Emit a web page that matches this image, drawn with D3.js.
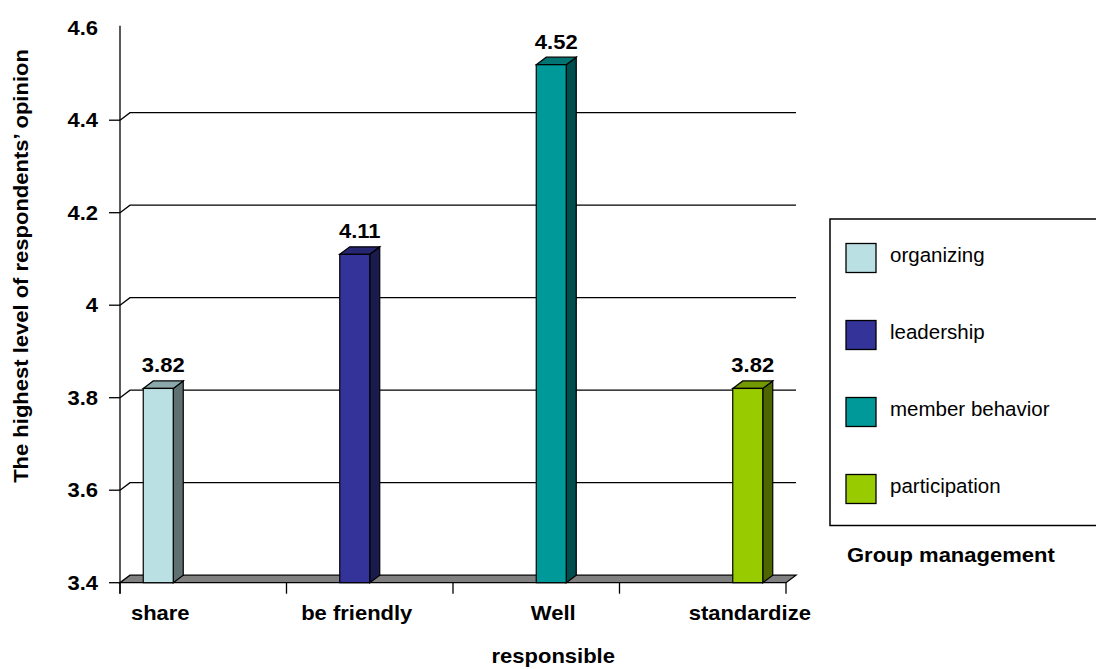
<!DOCTYPE html>
<html>
<head>
<meta charset="utf-8">
<script src="https://cdn.jsdelivr.net/npm/d3@7"></script>
<style>
  html, body { margin: 0; padding: 0; background: #fff; }
  svg { display: block; }
  text { font-family: "Liberation Sans", Arial, sans-serif; fill: #000; }
</style>
</head>
<body>
<svg id="chart" width="1096" height="669"></svg>
<script>
// ---- data ----
const categories = ["share", "be friendly", "Well responsible", "standardize"];
const categoryLines = [["share"], ["be friendly"], ["Well", "responsible"], ["standardize"]];
const series = ["organizing", "leadership", "member behavior", "participation"];
const values = [3.82, 4.11, 4.52, 3.82];           // series i sits in category i
const colors = ["#BBE0E3", "#333399", "#009999", "#99CC00"];
const yTicks = [3.4, 3.6, 3.8, 4.0, 4.2, 4.4, 4.6];
const yTitle = "The highest level of respondents\u2019 opinion";
const legendTitle = "Group management";

(function () {
// ---- layout ----
const svg = d3.select("#chart");
const pLeft = 120, pRight = 786, pBottom = 582.7, pTop = 27.7;
const dx = 10, dy = -7.5;           // 3D depth offset
const stretch = 1.1;
const boldSize = 20;

const x0 = d3.scaleBand().domain(categories).range([pLeft, pRight]).padding(0);
const x1 = d3.scaleBand().domain(series).range([0, x0.bandwidth()])
  .paddingInner(0).paddingOuter(0.775);
const y = d3.scaleLinear().domain([3.4, 4.6]).range([pBottom, pTop]);

const shade = (c, k) => { const r = d3.rgb(c); return d3.rgb(r.r * k, r.g * k, r.b * k).formatHex(); };

// gridlines on back wall
const gridVals = yTicks.filter(v => v > 3.4 && v < 4.6);
svg.append("g").selectAll("path").data(gridVals).join("path")
  .attr("d", v => `M${pLeft},${y(v)}L${pLeft + dx},${y(v) + dy}L${pRight + dx},${y(v) + dy}`)
  .attr("fill", "none").attr("stroke", "#000").attr("stroke-width", 1.3);

// floor
const y0 = y(3.4);
svg.append("path")
  .attr("d", `M${pLeft},${y0}L${pRight},${y0}L${pRight + dx},${y0 + dy}L${pLeft + dx},${y0 + dy}Z`)
  .attr("fill", "#808080").attr("stroke", "#000").attr("stroke-width", 1.3);

// x axis ticks (category boundaries)
const bounds = categories.map(c => x0(c)).concat([pRight]);
svg.append("g").selectAll("line").data(bounds).join("line")
  .attr("x1", d => d).attr("x2", d => d)
  .attr("y1", y0).attr("y2", y0 + 11)
  .attr("stroke", "#000").attr("stroke-width", 1.3);

// y axis
svg.append("line").attr("x1", pLeft).attr("x2", pLeft)
  .attr("y1", y(4.6) - 2).attr("y2", y0 + 11)
  .attr("stroke", "#000").attr("stroke-width", 1.3);
svg.append("g").selectAll("line").data(yTicks.filter(v => v < 4.6)).join("line")
  .attr("x1", pLeft - 11).attr("x2", pLeft)
  .attr("y1", d => y(d)).attr("y2", d => y(d))
  .attr("stroke", "#000").attr("stroke-width", 1.3);
svg.append("g").selectAll("text").data(yTicks).join("text")
  .attr("transform", d => `translate(98,${y(d)}) scale(${stretch},1)`)
  .attr("text-anchor", "end").attr("dy", "0.35em")
  .attr("font-size", boldSize).attr("font-weight", "bold")
  .text(d => d3.format("")(+d.toFixed(1)));

// bars
const bars = categories.map((c, i) => ({
  cat: c, ser: series[i], value: values[i], color: colors[i],
  x: x0(c) + x1(series[i]), w: x1.bandwidth()
}));
const bg = svg.append("g").selectAll("g").data(bars).join("g");
bg.append("path") // side
  .attr("d", d => `M${d.x + d.w},${y(d.value)}L${d.x + d.w + dx},${y(d.value) + dy}L${d.x + d.w + dx},${y0 + dy}L${d.x + d.w},${y0}Z`)
  .attr("fill", d => shade(d.color, 0.5)).attr("stroke", "#000").attr("stroke-width", 1.2);
bg.append("path") // top
  .attr("d", d => `M${d.x},${y(d.value)}L${d.x + dx},${y(d.value) + dy}L${d.x + d.w + dx},${y(d.value) + dy}L${d.x + d.w},${y(d.value)}Z`)
  .attr("fill", d => shade(d.color, 0.75)).attr("stroke", "#000").attr("stroke-width", 1.2);
bg.append("rect") // front
  .attr("x", d => d.x).attr("y", d => y(d.value))
  .attr("width", d => d.w).attr("height", d => y0 - y(d.value))
  .attr("fill", d => d.color).attr("stroke", "#000").attr("stroke-width", 1.2);
bg.append("text")
  .attr("transform", d => `translate(${d.x + d.w / 2 + dx / 2},${y(d.value) - 16}) scale(${stretch},1)`)
  .attr("text-anchor", "middle")
  .attr("font-size", boldSize).attr("font-weight", "bold")
  .text(d => d3.format(".2f")(d.value));

// category labels
const lab = svg.append("g").selectAll("g").data(bars).join("g")
  .attr("transform", d => `translate(${d.x + d.w / 2 + 2},620)`);
lab.selectAll("text").data((d, i) => categoryLines[i].map((t, j) => ({ t, j }))).join("text")
  .attr("transform", d => `translate(0,${d.j * 43}) scale(${stretch},1)`)
  .attr("text-anchor", "middle")
  .attr("font-size", boldSize).attr("font-weight", "bold")
  .text(d => d.t);

// y title
svg.append("text")
  .attr("transform", `translate(28,266) rotate(-90) scale(${stretch},1)`)
  .attr("text-anchor", "middle")
  .attr("font-size", boldSize).attr("font-weight", "bold")
  .text(yTitle);

// legend
svg.append("rect").attr("x", 830).attr("y", 219).attr("width", 300).attr("height", 306.5)
  .attr("fill", "#fff").attr("stroke", "#000").attr("stroke-width", 1.5);
const ly = d3.scalePoint().domain(series).range([258, 489]);
const lg = svg.append("g").selectAll("g").data(series).join("g")
  .attr("transform", d => `translate(846,${ly(d)})`);
lg.append("rect").attr("x", 0).attr("y", -14.5).attr("width", 30).attr("height", 29)
  .attr("fill", (d, i) => colors[i]).attr("stroke", "#000").attr("stroke-width", 1.3);
lg.append("text").attr("x", 44).attr("dy", "0.2em")
  .attr("font-size", 20.5)
  .text(d => d);
svg.append("text")
  .attr("transform", `translate(847,562) scale(${stretch},1)`)
  .attr("font-size", boldSize).attr("font-weight", "bold")
  .text(legendTitle);
})();
</script>
</body>
</html>
